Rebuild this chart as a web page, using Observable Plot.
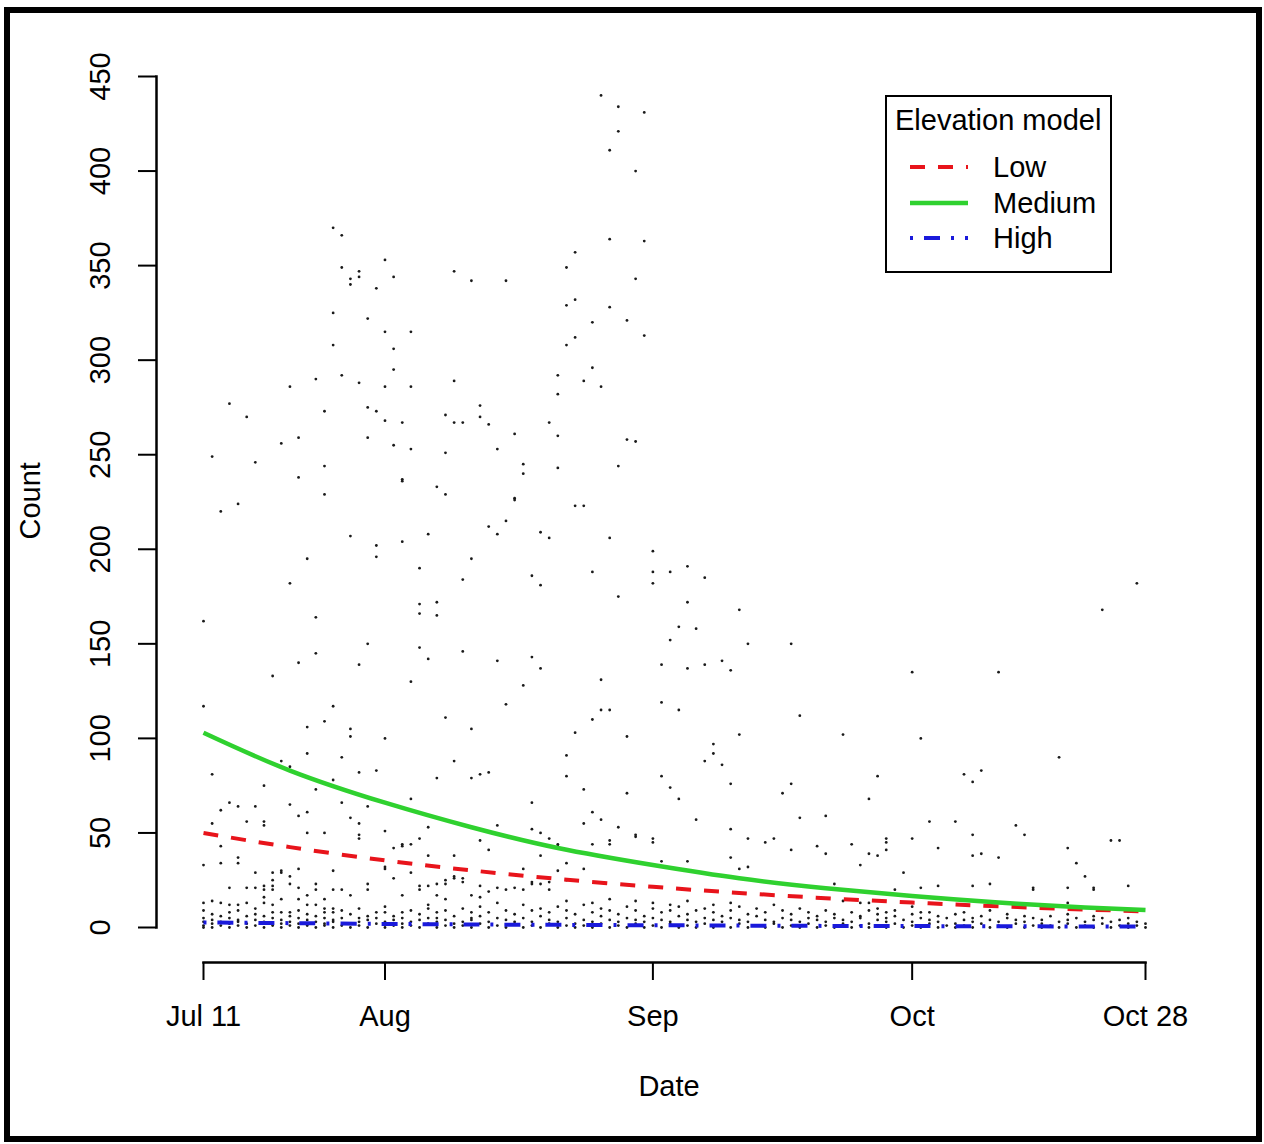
<!DOCTYPE html>
<html><head><meta charset="utf-8">
<script src="https://cdn.jsdelivr.net/npm/d3@7"></script>
<script src="https://cdn.jsdelivr.net/npm/@observablehq/plot@0.6"></script>
<style>
html,body{margin:0;padding:0;background:#fff;}
#wrap{position:relative;width:1264px;height:1144px;overflow:hidden;font-family:"Liberation Sans",Arial,sans-serif;color:#000;}
#border{position:absolute;left:4px;top:7px;width:1258px;height:1135px;border:6px solid #000;box-sizing:border-box;pointer-events:none;}
#chart{position:absolute;left:0;top:0;}
#legend{position:absolute;left:885px;top:95px;width:227px;height:178px;border:2px solid #000;box-sizing:border-box;background:#fff;}
#legend .t{position:absolute;left:8px;top:6px;font-size:29px;line-height:34px;white-space:nowrap;}
#legend .row{position:absolute;left:0;height:34px;width:220px;}
#legend .row svg{position:absolute;left:23px;top:0;}
#legend .row span{position:absolute;left:106px;top:0;font-size:29px;line-height:34px;}
</style></head>
<body>
<div id="wrap">
  <div id="chart"></div>
  <div id="legend"></div>
  <div id="border"></div>
</div>
<script>
// ---- data ----
const startDate = Date.UTC(2011, 6, 11); // Jul 11
const yTicks = [0, 50, 100, 150, 200, 250, 300, 350, 400, 450];
const xTickDays = [0, 21, 52, 82, 109];
const xTickLabels = ["Jul 11", "Aug", "Sep", "Oct", "Oct 28"];

const seriesNames = ["Low", "Medium", "High"];
const seriesColors = ["#e8141b", "#2fd12f", "#1a1adb"];
const seriesDash = ["15,13", null, "3,11,16,11"];
const seriesWidth = [4, 4.5, 4];

// model curves read at these days after Jul 11
const fitDays = [0, 10, 21, 31, 41, 52, 62, 72, 82, 92, 102, 109];
const lowFit = [50, 42.5, 35.5, 30.2, 25.7, 21.5, 18.3, 15.5, 13.2, 11.2, 9.5, 8.5];
const mediumFit = [103, 83, 66, 53, 42, 33, 26, 20.8, 16.6, 13.2, 10.6, 9.2];
const highFit = [2.7, 2.3, 1.9, 1.6, 1.4, 1.2, 1.0, 0.85, 0.75, 0.65, 0.55, 0.5];

// observed counts: [days after Jul 11, count]
const upperObs = [
[15,370],[16,366],[21,353],[16,349],[18,347],[18,344],[17,343],[17,340],[22,344],[20,338],[29,347],[31,342],[35,342],
[15,325],[19,322],[21,315],[24,315],[15,308],[22,306],[22,295],[16,292],[13,290],[18,288],[10,286],[21,286],[24,286],
[29,289],[3,277],[5,270],[14,273],[19,275],[20,273],[21,268],[23,267],[28,271],[29,267],[30,267],[32,276],[32,270],
[33,266],[36,261],[11,259],[9,256],[19,259],[22,255],[24,253],[34,253],[1,249],[6,246],[14,244],[28,251],[11,238],
[23,237],[23,236],[27,233],[28,229],[37,245],[37,240],[40,267],[14,229],[36,227],
[46,440],[48,434],[51,431],[48,421],[47,411],[50,400],[47,364],[51,363],[43,357],[42,349],[50,343],[42,329],[43,332],
[47,328],[45,320],[49,321],[51,313],[43,312],[42,308],[45,296],[41,292],[44,289],[46,286],[41,282],[41,260],[49,258],
[50,257],[41,243],[48,244]
];
const midObs = [
[2,220],[4,224],[17,207],[20,202],[20,196],[23,204],[26,208],[12,195],[25,190],[10,182],[30,184],[31,195],[33,212],
[34,208],[35,215],[36,226],[38,186],[39,181],[39,209],[40,206],[0,162],[13,164],[25,171],[25,166],[27,172],[27,165],
[19,150],[13,145],[11,140],[18,139],[25,148],[26,142],[30,146],[34,141],[38,143],[39,137],[8,133],[24,130],[37,128],
[35,118],[0,117],[15,117],[12,106],[14,109],[17,105],[17,101],[21,100],[28,111],[31,105],[12,92],[16,90],[9,88],[10,85],
[29,88],[1,81],[18,82],[20,83],[7,75],[15,78],[27,79],[31,79],[32,81],[33,82],[13,73],[38,66],[10,65],[3,66],[2,62],
[4,64],[6,64],[12,61],[11,59],[16,66],[19,64],[21,66],[24,68],[34,54],[26,53],[1,55],[5,56],[7,56],[7,54],[17,58],
[18,55],[38,52],[39,50],[32,46],[33,41],[12,50],[14,50],[18,49],[21,51],[23,44],[23,43],[25,47],[2,43],[4,37],[4,34],
[0,33],[2,34],[11,31],[15,30],[9,29],[21,31],[22,26],[28,25],[29,26],[30,26],[38,24],
[43,223],[44,223],[47,206],[52,199],[45,188],[52,188],[54,188],[52,182],[56,191],[58,185],[48,175],[56,172],[62,168],
[55,159],[57,158],[54,152],[63,150],[68,150],[53,139],[56,137],[58,139],[60,141],[61,136],[82,135],[92,135],[46,131],
[46,115],[47,115],[45,110],[53,119],[55,115],[69,112],[43,103],[49,101],[62,102],[74,102],[83,100],[42,91],[59,97],
[59,92],[58,88],[60,86],[99,90],[42,80],[53,80],[78,80],[88,81],[90,83],[89,77],[44,73],[49,71],[54,74],[55,68],
[61,76],[67,71],[68,76],[77,68],[45,61],[46,57],[44,55],[48,53],[57,57],[61,52],[69,58],[72,59],[84,56],[87,56],
[94,54],[95,49],[105,46],[106,46],[100,42],[101,34],[102,27],[103,21],[100,21],[96,21],[107,22],[91,23],[89,22],
[85,22],[83,21],[90,39],[89,38],[92,37],[85,42],[89,49],[82,47],[79,47],[79,45],[79,41],[77,39],[78,38],[76,33],
[75,44],[72,39],[71,43],[68,41],[65,45],[66,47],[63,47],[61,37],[62,31],[63,32],[56,35],[53,35],[52,47],[52,45],
[50,49],[47,46],[47,44],[45,44],[42,34],[44,31],[41,43],[108,182],[104,168]
];
const lowObs = [
[73,23],[80,20],[81,29],[96,20],[100,13],[103,20],[74,14],[76,13],[77,13],[78,10],[79,8],[82,13],[82,11],[84,8],
[39,38],[40,47],[41,44],[50,48],[33,19],[34,21],[35,20],[36,21],[37,20],[37,31],[38,23],[39,23],[40,24],[40,20],
[41,30],[42,25],[1,14],[0,13],[0,9],[3,21],[2,13],[3,12],[4,12],[5,13],[5,21],[6,21],[7,22],[7,20],[7,16],[7,13],
[6,29],[8,29],[8,25],[8,22],[8,20],[8,8],[9,30],[9,15],[10,27],[10,23],[10,8],[11,21],[11,15],[12,17],[12,12],
[13,23],[13,20],[13,12],[14,15],[14,10],[14,8],[15,20],[15,10],[15,8],[16,20],[17,17],[18,47],[18,5],[19,23],[19,20],
[21,32],[21,8],[22,42],[23,17],[23,8],[24,44],[24,29],[25,22],[25,20],[26,38],[26,22],[26,10],[27,23],[27,17],[27,8],
[28,23],[28,15],[29,38],[29,27],[30,24],[31,17],[31,8],[32,22],[32,16]
];
// dense band of small counts near zero, per day
const bandCounts = [
[0,1,3,5],[0,2,4,7],[1,3,6],[0,2,5,8],[1,3,4,9],[0,2,6],[1,4,7,10],[0,2,3,6],[1,5,12],[0,2,4,8],
[1,3,6],[0,2,5,9],[1,4,7],[0,3,6],[1,2,5],[0,3,4],[1,5,9],[0,2,7],[1,3,10],[0,4,6],
[2,5,8],[0,3,11],[1,4,6],[0,2,5],[1,3,9],[0,4,7],[2,5,12],[0,3,5],[1,4,9],[0,2,6],
[1,3,10],[0,4,5],[2,6,11],[0,3,8],[1,5,13],[0,4,9],[2,3,7],[0,5,12],[1,3,9],[0,6,10],
[2,4,8],[0,3,11],[1,5,9,14],[0,2,7],[1,4,12],[0,3,8,13],[2,6,10],[0,4,9,15],[1,3,7],[0,5,11],
[2,4,9,14],[0,3,6],[1,5,10,13],[0,4,8],[2,3,9,12],[0,6,11],[1,4,7,14],[0,3,9],[2,5,10],[0,4,8,12],
[1,3,6],[0,5,9,13],[2,4,11],[0,3,7],[1,6,10],[0,4,8],[2,3,12],[0,5,9],[1,4,7],[0,3,10],
[2,5,8],[0,4,6],[1,3,9],[0,5,7],[2,4],[0,3,8],[1,5,6],[0,2,9],[1,4,7],[0,3,5],
[2,6,9],[0,4],[1,3,7],[0,5,8],[2,4],[0,3,6],[1,5],[0,2,7],[1,4,8],[0,3,5],
[2,6],[0,4,9],[1,3],[0,5,7],[2,4],[0,3,6],[1,5],[0,2,4],[1,6],[0,3],
[2,4,7],[0,5],[1,3],[0,4,6],[2,5],[0,3],[1,4],[0,2,5],[1,3],[0,2]
];

// ---- build ----
const dayMs = 86400000;
const toDate = d => new Date(startDate + d * dayMs);
const obs = [...upperObs, ...midObs, ...lowObs].map(([d, c]) => ({date: toDate(d), count: c}));
bandCounts.forEach((cs, d) => cs.forEach(c => obs.push({date: toDate(d), count: c})));
const fitValues = [lowFit, mediumFit, highFit];
const fits = seriesNames.map((name, s) => fitDays.map((d, i) => ({date: toDate(d), value: fitValues[s][i], series: name})));
const tickDates = xTickDays.map(toDate);
const labelByTime = new Map(tickDates.map((d, i) => [+d, xTickLabels[i]]));

const chart = Plot.plot({
  width: 1264, height: 1144,
  marginLeft: 156, marginRight: 119, marginTop: 76, marginBottom: 182,
  style: {fontFamily: "'Liberation Sans', Arial, sans-serif", fontSize: "29px", color: "#000", background: "transparent", overflow: "visible"},
  x: {type: "utc", domain: [toDate(0), toDate(109)], range: [203, 1145]},
  y: {domain: [0, 450], range: [927, 76]},
  marks: [
    Plot.frame({anchor: "left", insetBottom: 35, strokeWidth: 2.5}),
    Plot.frame({anchor: "bottom", insetLeft: 47, strokeWidth: 2.5}),
    Plot.axisY({ticks: yTicks, tickSize: 18, tickPadding: 29, tickRotate: -90, fontSize: 29, label: null, strokeWidth: 2}),
    Plot.axisX({ticks: tickDates, tickFormat: d => labelByTime.get(+d), tickSize: 18, tickPadding: 25, fontSize: 29, label: null, strokeWidth: 2}),
    Plot.text(["Count"], {text: d => d, frameAnchor: "left", rotate: -90, dx: -126, dy: 20, fontSize: 29}),
    Plot.text(["Date"], {text: d => d, frameAnchor: "bottom", dx: 18, dy: 133, fontSize: 29}),
    Plot.dot(obs, {x: "date", y: "count", r: 1.4, fill: "#1a1a1a", stroke: null}),
    ...fits.map((f, s) => Plot.line(f, {x: "date", y: "value", stroke: seriesColors[s], strokeWidth: seriesWidth[s], strokeDasharray: seriesDash[s], curve: "natural", strokeLinecap: "butt"}))
  ]
});
document.getElementById("chart").appendChild(chart);

// legend
const legend = document.getElementById("legend");
legend.innerHTML = `<div class="t">Elevation model</div>`;
const rowTops = [53, 89, 124];
seriesNames.forEach((name, s) => {
  const row = document.createElement("div");
  row.className = "row";
  row.style.top = rowTops[s] + "px";
  const dash = seriesDash[s] ? `stroke-dasharray="${seriesDash[s]}"` : "";
  row.innerHTML = `<svg width="60" height="34"><line x1="0" x2="58" y1="17" y2="17" stroke="${seriesColors[s]}" stroke-width="${seriesWidth[s]}" ${dash}/></svg><span>${name}</span>`;
  legend.appendChild(row);
});
</script>
</body></html>
